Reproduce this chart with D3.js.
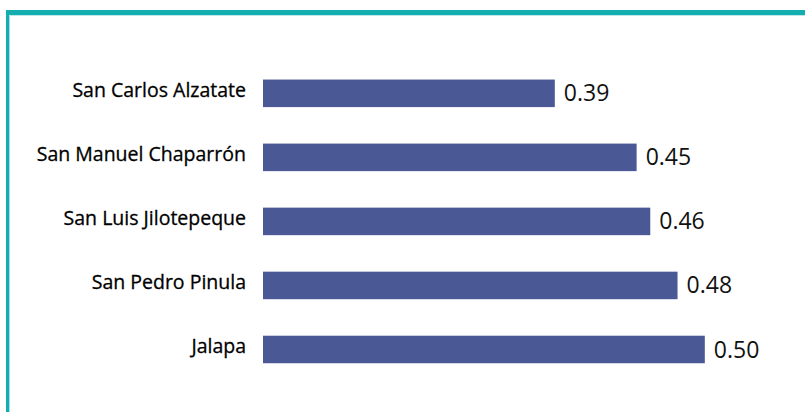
<!DOCTYPE html>
<html>
<head>
<meta charset="utf-8">
<script src="https://cdn.jsdelivr.net/npm/d3@7"></script>
<style>
  html, body { margin: 0; padding: 0; background: #ffffff; }
  svg { display: block; }
</style>
</head>
<body>
<svg id="chart" width="805" height="412"></svg>
<script>
const categories = ["San Carlos Alzatate", "San Manuel Chaparrón", "San Luis Jilotepeque", "San Pedro Pinula", "Jalapa"];
const values = [0.39, 0.45, 0.46, 0.48, 0.50];
const valueLabels = ["0.39", "0.45", "0.46", "0.48", "0.50"];

const W = 805, H = 412;
const svg = d3.select("#chart");

// frame
svg.append("rect").attr("x", 6).attr("y", 10).attr("width", W - 6).attr("height", 5).attr("fill", "#14adb0");
svg.append("rect").attr("x", 6).attr("y", 10).attr("width", 3).attr("height", H - 10).attr("fill", "#14adb0");
svg.append("rect").attr("x", 9).attr("y", 15).attr("width", 1).attr("height", H - 15).attr("fill", "#a8dfe0");
svg.append("rect").attr("x", 9).attr("y", 15).attr("width", W - 9).attr("height", 1).attr("fill", "#bfe7e8");

const x = d3.scaleLinear().domain([0.176, 0.55]).range([263, 263 + 1363.6 * (0.55 - 0.176)]);
const y = d3.scaleBand().domain(categories).range([61.3, 381.5]).paddingInner(0.57).paddingOuter(0.285);

const data = categories.map((c, i) => ({ c, v: values[i], l: valueLabels[i] }));

svg.selectAll("rect.bar").data(data).join("rect")
  .attr("class", "bar")
  .attr("x", x(0.176))
  .attr("y", d => y(d.c))
  .attr("width", d => x(d.v) - x(0.176))
  .attr("height", y.bandwidth())
  .attr("fill", "#4a5995");

svg.selectAll("text.cat").data(data).join("text")
  .attr("class", "cat")
  .attr("x", 246)
  .attr("y", d => y(d.c) + y.bandwidth() / 2 + 3.5)
  .attr("text-anchor", "end")
  .attr("font-family", "Open Sans")
  .attr("font-size", 19.5)
  .attr("fill", "#000")
  .attr("stroke", "#000")
  .attr("stroke-width", 0.3)
  .text(d => d.c);

svg.selectAll("text.val").data(data).join("text")
  .attr("class", "val")
  .attr("x", d => x(d.v) + 9)
  .attr("y", d => y(d.c) + y.bandwidth() / 2)
  .attr("dy", "0.35em")
  .attr("font-family", "Open Sans")
  .attr("font-size", 23)
  .attr("fill", "#111")
  .text(d => d.l);
</script>
</body>
</html>
